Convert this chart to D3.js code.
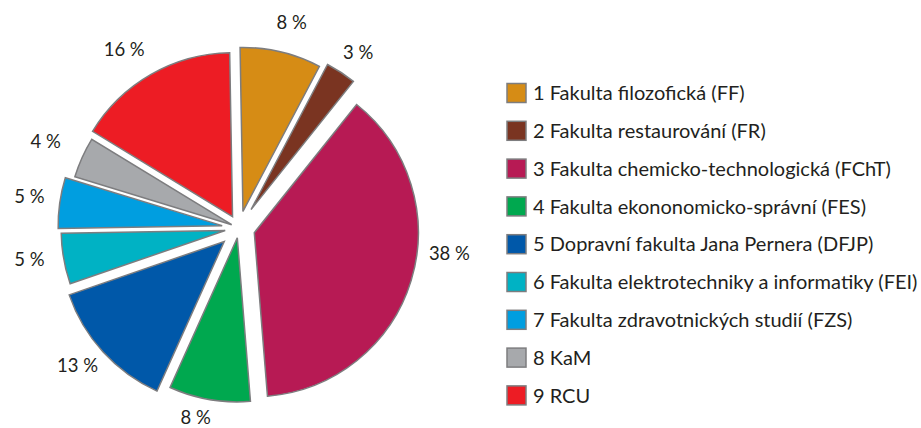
<!DOCTYPE html>
<html><head><meta charset="utf-8">
<script src="https://cdn.jsdelivr.net/npm/d3@7"></script>
<style>body{margin:0;background:#fff}svg{display:block}</style>
</head><body>
<svg id="chart" width="921" height="428"></svg>
<script>
// ---- data ----
const categories = [
  "1 Fakulta filozofická (FF)",
  "2 Fakulta restaurování (FR)",
  "3 Fakulta chemicko-technologická (FChT)",
  "4 Fakulta ekononomicko-správní (FES)",
  "5 Dopravní fakulta Jana Pernera (DFJP)",
  "6 Fakulta elektrotechniky a informatiky (FEI)",
  "7 Fakulta zdravotnických studií (FZS)",
  "8 KaM",
  "9 RCU"
];
const values = [8, 3, 38, 8, 13, 5, 5, 4, 16];
const valueLabels = ["8 %", "3 %", "38 %", "8 %", "13 %", "5 %", "5 %", "4 %", "16 %"];
const colors = ["#d68c15", "#7a3421", "#b71a54", "#00a84f", "#0058a9", "#00b2c4", "#009ee0", "#a7a9ac", "#ed1c24"];

// ---- layout ----
const W = 921, H = 428;
const cx = 239, cy = 228, R = 164;
const explode = [17, 22, 16, 10, 20, 14, 17, 8, 13];
const labelR = 212;
const labelNudgeDeg = [1, 1, -10, 2, 2, 1.5, 0.5, 0, -3];
const font = "Lato, 'Open Sans', sans-serif";
const deg = Math.PI / 180;

const svg = d3.select("#chart");
const g = svg.append("g").attr("transform", `translate(${cx},${cy})`);

const pie = d3.pie().sort(null).value(d => d)
  .startAngle(-1 * deg).endAngle(359 * deg);
const arcs = pie(values);
const arc = d3.arc().innerRadius(0).outerRadius(R);

g.selectAll("path.slice").data(arcs).join("path")
  .attr("class", "slice")
  .attr("d", arc)
  .attr("fill", (d, i) => colors[i])
  .attr("stroke", "#7d7d7f")
  .attr("stroke-width", 1.5)
  .attr("stroke-linejoin", "miter")
  .attr("transform", (d, i) => {
    const m = (d.startAngle + d.endAngle) / 2;
    return `translate(${explode[i] * Math.sin(m)},${-explode[i] * Math.cos(m)})`;
  });

g.selectAll("text.pct").data(arcs).join("text")
  .attr("class", "pct")
  .attr("x", (d, i) => labelR * Math.sin((d.startAngle + d.endAngle) / 2 + labelNudgeDeg[i] * deg))
  .attr("y", (d, i) => Math.min(H - 4 - cy - 6, -labelR * Math.cos((d.startAngle + d.endAngle) / 2 + labelNudgeDeg[i] * deg)))
  .attr("dy", "0.35em")
  .attr("text-anchor", "middle")
  .attr("font-family", font)
  .attr("font-size", 18.5)
  .attr("fill", "#231f20")
  .text((d, i) => valueLabels[i]);

// legend
const legY = d3.scalePoint().domain(d3.range(categories.length)).range([93, 395.4]);
const leg = svg.append("g");
const items = leg.selectAll("g").data(categories).join("g")
  .attr("transform", (d, i) => `translate(507,${legY(i)})`);
items.append("rect")
  .attr("x", 0).attr("y", -9.5).attr("width", 19).attr("height", 19)
  .attr("fill", (d, i) => colors[i])
  .attr("stroke", "#7d7d7f").attr("stroke-width", 1.5);
items.append("text")
  .attr("x", 26).attr("y", 0).attr("dy", "0.36em")
  .attr("font-family", font).attr("font-size", 20)
  .attr("fill", "#231f20")
  .text(d => d);
</script>
</body></html>
